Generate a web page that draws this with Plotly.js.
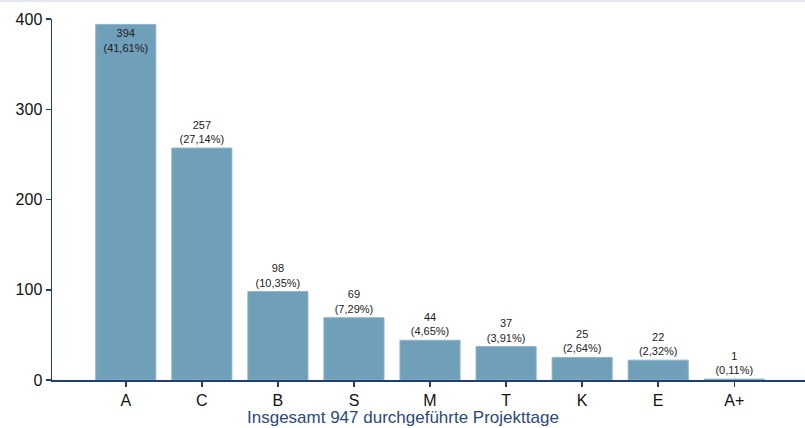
<!DOCTYPE html>
<html>
<head>
<meta charset="utf-8">
<script src="https://cdn.plot.ly/plotly-3.0.1.min.js"></script>
<style>html,body{margin:0;padding:0;background:#fff;}#chart{width:805px;height:428px;}</style>
</head>
<body>
<div id="chart"></div>
<script>
const categories = ['A', 'C', 'B', 'S', 'M', 'T', 'K', 'E', 'A+'];
const counts = [394, 257, 98, 69, 44, 37, 25, 22, 1];
const percents = ['41,61', '27,14', '10,35', '7,29', '4,65', '3,91', '2,64', '2,32', '0,11'];
const xTitle = 'Insgesamt 947 durchgeführte Projekttage';

const labels = counts.map((c, i) => c + '<br>(' + percents[i] + '%)');
const positions = counts.map((c, i) => i === 0 ? 'inside' : 'outside');

const trace = {
  type: 'bar',
  x: categories,
  y: counts,
  text: labels,
  textposition: positions,
  insidetextanchor: 'end',
  textangle: 0,
  cliponaxis: false,
  textfont: {family: 'Liberation Sans, Arial, sans-serif', size: 11, color: '#222'},
  insidetextfont: {family: 'Liberation Sans, Arial, sans-serif', size: 11, color: '#222'},
  outsidetextfont: {family: 'Liberation Sans, Arial, sans-serif', size: 11, color: '#222'},
  marker: {color: '#709fb9', line: {color: '#8fb4c8', width: 1}},
  width: 0.79,
  hoverinfo: 'none'
};

const layout = {
  width: 805, height: 428,
  margin: {l: 52, r: 0, t: 19, b: 48},
  paper_bgcolor: '#fff', plot_bgcolor: '#fff',
  showlegend: false,
  font: {family: 'Liberation Sans, Arial, sans-serif', color: '#111'},
  xaxis: {
    type: 'category',
    range: [-0.97, 8.93],
    showline: true, linecolor: '#1f3f6e', linewidth: 1.5,
    ticks: 'outside', ticklen: 5, tickcolor: '#1f3f6e', tickwidth: 1.5,
    showgrid: false, zeroline: false,
    tickfont: {size: 16, color: '#111'}
  },
  yaxis: {
    range: [0, 400],
    tickvals: [0, 100, 200, 300, 400],
    showline: true, linecolor: '#1f3f6e', linewidth: 1.5,
    ticks: 'outside', ticklen: 5, tickcolor: '#1f3f6e', tickwidth: 1.5,
    showgrid: false, zeroline: false,
    tickfont: {size: 16, color: '#111'}
  },
  annotations: [{
    text: xTitle, xref: 'paper', yref: 'paper',
    x: 0.4655, y: -0.104, xanchor: 'center', yanchor: 'middle',
    showarrow: false, font: {size: 17, color: '#2a4a7a'}
  }],
  shapes: [{type: 'line', xref: 'paper', yref: 'paper', x0: -0.07, x1: 1, y0: 1.05, y1: 1.05,
            line: {color: '#e3e7ef', width: 2}}]
};

Plotly.newPlot('chart', [trace], layout, {displayModeBar: false, staticPlot: true});
</script>
</body>
</html>
